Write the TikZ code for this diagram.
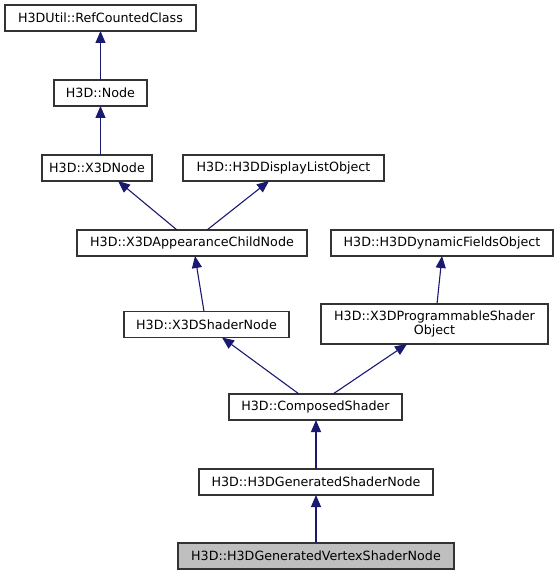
\documentclass[tikz,border=0pt]{standalone}
\usepackage{fontspec}
\setmainfont{DejaVu Sans}
\usetikzlibrary{arrows.meta}
\definecolor{edgeblue}{HTML}{191970}
\definecolor{boxborder}{HTML}{333333}
\definecolor{hlfill}{HTML}{BFBFBF}
\begin{document}
\begin{tikzpicture}[x=1pt,y=-1pt,
  cls/.style={draw=boxborder, line width=1.1pt, fill=white, inner sep=0pt, outer sep=0pt,
    minimum height=26pt, font=\fontsize{12.7}{14}\selectfont, align=center},
  hl/.style={cls, fill=hlfill},
  inh/.style={draw=edgeblue, line width=1.1pt, -{Triangle[length=12pt,width=10pt]}, shorten >=0pt}]
\useasboundingbox (0,0) rectangle (559,575);
\node[cls, minimum width=191pt] (rcc) at (100.5,18) {H3DUtil::RefCountedClass};
\node[cls, minimum width=93pt] (nd) at (100.5,93) {H3D::Node};
\node[cls, minimum width=110pt] (x3d) at (97,168) {H3D::X3DNode};
\node[cls, minimum width=201pt] (dlo) at (283.5,168) {H3D::H3DDisplayListObject};
\node[cls, minimum width=230pt] (app) at (192,243) {H3D::X3DAppearanceChildNode};
\node[cls, minimum width=222pt] (dfo) at (442,243) {H3D::H3DDynamicFieldsObject};
\node[cls, minimum width=165pt] (shn) at (206.5,324.5) {H3D::X3DShaderNode};
\node[cls, minimum width=227pt, minimum height=40pt] (pso) at (434.5,324) {H3D::X3DProgrammableShader\\Object};
\node[cls, minimum width=173pt] (cmp) at (315.5,407) {H3D::ComposedShader};
\node[cls, minimum width=234pt] (gen) at (316,482) {H3D::H3DGeneratedShaderNode};
\node[hl, minimum width=276pt] (vtx) at (316,556) {H3D::H3DGeneratedVertexShaderNode};

\draw[inh] (nd.north) -- (rcc.south);
\draw[inh] ([xshift=3.5pt]x3d.north) -- (nd.south);
\draw[inh] ([xshift=-15pt]app.north) -- ([xshift=21pt]x3d.south);
\draw[inh] ([xshift=15pt]app.north) -- ([xshift=-14.5pt]dlo.south);
\draw[inh] ([xshift=-2.5pt]shn.north) -- ([xshift=3pt]app.south);
\draw[inh] ([xshift=2.5pt]pso.north) -- (dfo.south);
\draw[inh] ([xshift=-16.5pt]cmp.north) -- ([xshift=15.5pt]shn.south);
\draw[inh] ([xshift=17.5pt]cmp.north) -- ([xshift=-27.5pt]pso.south);
\draw[inh] (gen.north) -- ([xshift=0.5pt]cmp.south);
\draw[inh] (vtx.north) -- (gen.south);
\end{tikzpicture}
\end{document}
